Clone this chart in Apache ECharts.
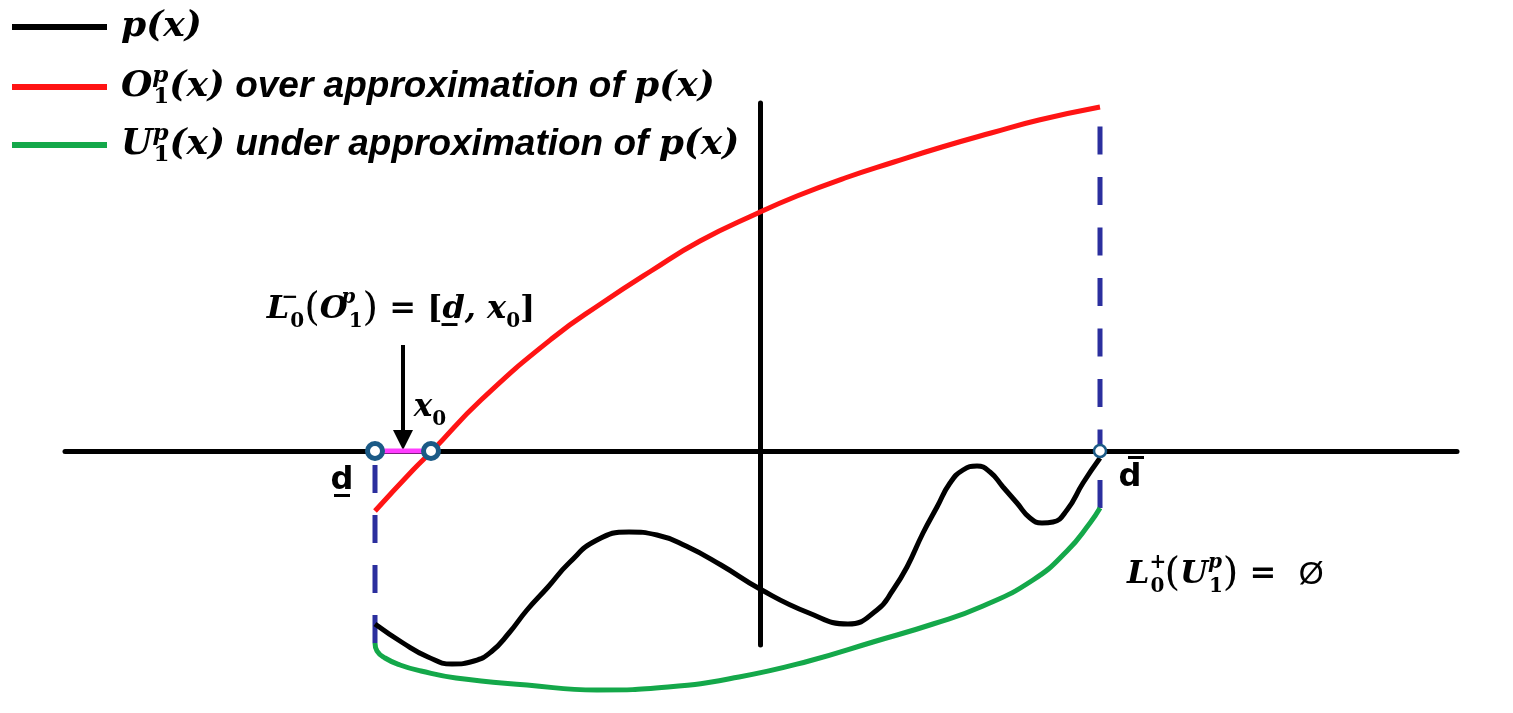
<!DOCTYPE html>
<html>
<head>
<meta charset="utf-8">
<script src="https://cdn.jsdelivr.net/npm/echarts@6/dist/echarts.min.js"></script>
<style>
  html, body { margin: 0; padding: 0; background: #fff; }
  #chart { width: 1513px; height: 713px; }
</style>
</head>
<body>
<div id="chart"></div>
<script>
// coordinates: x to the right of the vertical axis, y above the horizontal axis
const pCurve = [
  [-385, -173], [-357, -192], [-332, -206], [-308, -213], [-286, -210], [-269, -201],
  [-251, -182], [-233, -159], [-212, -136], [-191, -112], [-163, -89], [-131, -81],
  [-103, -84], [-74, -95], [-39, -114], [0, -138], [49, -162], [88, -173], [117, -159],
  [133, -139], [147, -116], [163, -82], [177, -56], [190, -32], [203, -19], [217, -15],
  [230, -21], [243, -36], [257, -52], [270, -67], [282, -72], [293, -71], [307, -59],
  [323, -32], [340, -7]
];
const overApprox = [
  [-385, -60], [-347, -19], [-327, 1], [-279, 51], [-206, 114], [-158, 148], [-109, 180],
  [-60, 210], [-2, 238], [37, 255], [85, 273], [134, 289], [182, 304], [231, 318],
  [279, 331], [340, 344]
];
const underApprox = [
  [-385, -192], [-383, -200], [-375, -207], [-360, -214], [-339, -220], [-304, -227],
  [-233, -234], [-163, -239], [-92, -236], [-21, -226], [49, -210], [113, -191],
  [173, -173], [223, -155], [273, -129], [307, -100], [330, -72], [340, -57]
];
const dLow = -385;      // d (lower bound)
const dHigh = 340;      // d bar (upper bound)
const x0 = -329;        // root of O_1^p
const leftBound = [[dLow, -192], [dLow, 0]];
const rightBound = [[dHigh, -57], [dHigh, 344]];
const interval = [[dLow, 0], [x0, 0]];
const arrow = [[-357, 106], [-357, 11]];
const notePoints = [[-359, 141], [-330, 43], [-418, -30], [370, -27], [367, -124]];
const legendNames = ['p(x)', 'O', 'U'];
const legendTops = [4, 60, 118];

const MATH = "'DejaVu Serif', 'Liberation Serif', serif";
const WORD = "'Liberation Sans', Arial, sans-serif";
const SANS = "'DejaVu Sans', 'Liberation Sans', sans-serif";

function mathRich(size, lh, wordSize) {
  const small = Math.round(size * 0.63);
  const base = { color: '#000', textBorderWidth: 0 };
  return {
    g: { width: 9 },
    m: { ...base, fontFamily: MATH, fontSize: size, fontWeight: 'bold', fontStyle: 'italic', lineHeight: lh },
    n: { ...base, fontFamily: MATH, fontSize: size, fontWeight: 'bold', lineHeight: lh },
    big: { ...base, fontFamily: MATH, fontSize: Math.round(size * 1.25), fontWeight: 'normal', lineHeight: lh },
    sup: { ...base, fontFamily: MATH, fontSize: small, fontWeight: 'bold', fontStyle: 'italic', lineHeight: small, verticalAlign: 'top', width: 1 },
    supn: { ...base, fontFamily: MATH, fontSize: small, fontWeight: 'bold', lineHeight: small, verticalAlign: 'top', width: 1 },
    sub: { ...base, fontFamily: MATH, fontSize: small, fontWeight: 'bold', lineHeight: small, verticalAlign: 'bottom' },
    w: { ...base, fontFamily: WORD, fontSize: wordSize, fontWeight: 'bold', fontStyle: 'italic', lineHeight: lh },
    d: { ...base, fontFamily: SANS, fontSize: size + 3, fontWeight: 'bold', lineHeight: lh },
    e: { ...base, fontFamily: WORD, fontSize: size, lineHeight: lh }
  };
}

const legendText = {
  'p(x)': '{g| }{m|p(x)}',
  'O': '{g| }{m|O}{sup|p}{sub|1}{m|(x)}{w| over approximation of }{m|p(x)}',
  'U': '{g| }{m|U}{sup|p}{sub|1}{m|(x)}{w| under approximation of }{m|p(x)}'
};

const noteText = [
  '{m|L}{supn|\u2212}{sub|0}{big|(}{m|O}{sup|p}{sub|1}{big|)}{n| = [}{m|d\u0332, x}{sub|0}{n|]}',
  '{m|x}{sub|0}',
  '{d|d\u0332}',
  '{d|d\u0305}',
  '{m|L}{supn|+}{sub|0}{big|(}{m|U}{sup|p}{sub|1}{big|)}{n| =  }{e|\u00d8}'
];
const noteAlign = ['center', 'center', 'center', 'center', 'left'];
const noteSize = [32, 31, 29, 29, 32];

const chart = echarts.init(document.getElementById('chart'));

chart.setOption({
  animation: false,
  backgroundColor: '#fff',
  grid: { left: 65, right: 56, top: 103, bottom: 68, containLabel: false },
  xAxis: {
    type: 'value', min: -695, max: 697,
    axisLine: { show: true, onZero: true, lineStyle: { color: '#000', width: 5 } },
    axisTick: { show: false }, axisLabel: { show: false }, splitLine: { show: false }
  },
  yAxis: {
    type: 'value', min: -194, max: 348,
    axisLine: { show: true, onZero: true, lineStyle: { color: '#000', width: 5 } },
    axisTick: { show: false }, axisLabel: { show: false }, splitLine: { show: false }
  },
  legend: legendNames.map((name, i) => ({
    data: [name],
    orient: 'vertical',
    left: 7, top: legendTops[i],
    icon: 'rect',
    itemWidth: 95, itemHeight: 6,
    selectedMode: false,
    formatter: n => legendText[n],
    textStyle: { rich: mathRich(36, 44, 37) }
  })),
  series: [
    {
      name: 'p(x)', type: 'line', data: pCurve, smooth: 0.5, showSymbol: false, clip: false, z: 3,
      color: '#000', lineStyle: { color: '#000', width: 5 }
    },
    {
      name: 'O', type: 'line', data: overApprox, smooth: 0.5, showSymbol: false, clip: false, z: 3,
      color: '#ff1414', lineStyle: { color: '#ff1414', width: 5 }
    },
    {
      name: 'U', type: 'line', data: underApprox, smooth: 0.5, showSymbol: false, clip: false, z: 3,
      color: '#14a84a', lineStyle: { color: '#14a84a', width: 5 }
    },
    {
      name: 'lower', type: 'line', data: leftBound, showSymbol: false, clip: false, z: 2,
      lineStyle: { color: '#2b2f9e', width: 5, type: [28, 22], cap: 'butt' }
    },
    {
      name: 'upper', type: 'line', data: rightBound, showSymbol: false, clip: false, z: 2,
      lineStyle: { color: '#2b2f9e', width: 5, type: [28, 22.5], cap: 'butt' }
    },
    {
      name: 'interval', type: 'line', data: interval, showSymbol: false, clip: false, z: 4,
      lineStyle: { color: '#ff3cff', width: 5 }
    },
    {
      name: 'arrow', type: 'lines', coordinateSystem: 'cartesian2d', clip: false, z: 4,
      symbol: ['none', 'triangle'], symbolSize: 20,
      lineStyle: { color: '#000', width: 4, opacity: 1 },
      data: [{ coords: arrow }]
    },
    {
      name: 'ends', type: 'scatter', clip: false, z: 5,
      data: [leftBound[1], interval[1]],
      symbolSize: 15,
      itemStyle: { color: '#fff', borderColor: '#1b5a86', borderWidth: 5, opacity: 1 }
    },
    {
      name: 'endHigh', type: 'scatter', clip: false, z: 5,
      data: [[dHigh, 0]],
      symbolSize: 12,
      itemStyle: { color: '#fff', borderColor: '#1b5a86', borderWidth: 2.5, opacity: 1 }
    },
    {
      name: 'notes', type: 'scatter', clip: false, z: 6, symbolSize: 0,
      itemStyle: { opacity: 1 },
      data: notePoints.map((p, i) => ({
        value: p,
        label: {
          show: true, position: 'inside', align: noteAlign[i], verticalAlign: 'middle',
          color: '#000', textBorderWidth: 0, opacity: 1,
          formatter: noteText[i], rich: mathRich(noteSize[i], 44, 33)
        }
      }))
    }
  ]
});
</script>
</body>
</html>
